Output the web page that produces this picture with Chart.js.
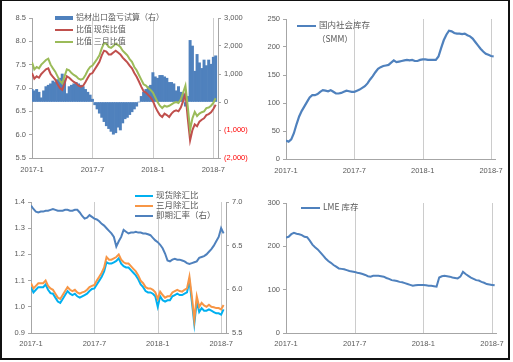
<!DOCTYPE html>
<html>
<head>
<meta charset="utf-8">
<script src="https://cdn.jsdelivr.net/npm/chart.js@4.4.0/dist/chart.umd.min.js"></script>
<style>
  body { margin: 0; background: #fff; }
  #wrap { position: relative; width: 513px; height: 362px; overflow: hidden; background: #fff; }
  #frame { position: absolute; left: 0; top: 0; width: 506px; height: 357px; border: 2px solid #111; border-top-width: 1px; pointer-events: none; }
  canvas { position: absolute; }
  .lg { position: absolute; font-family: "Noto Sans CJK SC", sans-serif; font-size: 8px; color: #595959; white-space: nowrap; height: 12px; line-height: 12px; }
  .sw { display: inline-block; width: 18px; height: 2px; vertical-align: middle; margin-right: 3px; }
</style>
</head>
<body>
<div id="wrap">
  <canvas id="c1" width="256" height="180" style="left:0;top:0"></canvas>
  <canvas id="c2" width="254" height="180" style="left:256px;top:0"></canvas>
  <canvas id="c3" width="256" height="180" style="left:0;top:180px"></canvas>
  <canvas id="c4" width="254" height="180" style="left:256px;top:180px"></canvas>

  <div class="lg" style="left:55px;top:11px"><span class="sw" style="background:#4F81BD;height:4px"></span>铝材出口盈亏试算（右）</div>
  <div class="lg" style="left:55px;top:23px"><span class="sw" style="background:#C0504D"></span>比值 现货比值</div>
  <div class="lg" style="left:55px;top:35px"><span class="sw" style="background:#9BBB59"></span>比值 三月比值</div>

  <div class="lg" style="left:297px;top:18px;font-size:8.5px"><span class="sw" style="background:#4F81BD;width:19px"></span>国内社会库存</div>
  <div class="lg" style="left:317px;top:32px;font-size:8.5px">（SMM）</div>

  <div class="lg" style="left:135px;top:188px;font-size:8.5px"><span class="sw" style="background:#00B0F0"></span>现货除汇比</div>
  <div class="lg" style="left:135px;top:198px;font-size:8.5px"><span class="sw" style="background:#F79646"></span>三月除汇比</div>
  <div class="lg" style="left:135px;top:208px;font-size:8.5px"><span class="sw" style="background:#4F81BD"></span>即期汇率（右）</div>

  <div class="lg" style="left:301px;top:200px;font-size:8.5px"><span class="sw" style="background:#4F81BD;width:19px"></span>LME 库存</div>

  <div id="frame"></div>
</div>
<script>
// weekly readings, week 0 = first week of 2017-1
const xTickPos = [0, 26, 52, 78];
const xTickLabels = ['2017-1', '2017-7', '2018-1', '2018-7'];

// panel 1
const exportPL = [450,400,450,350,150,400,550,600,650,750, 700,800,850,1000,800,300,550,600,650,700,
  650,600,550,450,350,250,100,-100,-250,-400, -550,-700,-850,-950,-1050,-1150,-1100,-900,-1000,-750,
  -600,-550,-450,-350,-250,-150,0,200,350,450, 550,600,1050,900,850,950,950,900,850,700,
  700,650,400,550,350,300,-150,200,2200,2000, 1100,1700,1400,1200,1500,1300,1500,1350,1600,1650];
const ratioSpot = [7.32,7.2,7.25,7.22,7.3,7.35,7.4,7.42,7.3,7.24, 7.18,7.08,7.0,6.96,7.1,7.25,7.22,7.17,7.13,7.1,
  7.05,7.03,7.05,7.13,7.22,7.3,7.32,7.4,7.48,7.56, 7.7,7.8,7.78,7.72,7.72,7.76,7.8,7.76,7.72,7.65,
  7.6,7.55,7.48,7.42,7.32,7.24,7.14,7.03,6.93,6.9, 6.85,6.8,6.72,6.6,6.5,6.42,6.38,6.45,6.42,6.38,
  6.45,6.5,6.52,6.5,6.58,6.72,6.88,6.35,5.88,6.1, 6.22,6.18,6.28,6.32,6.35,6.42,6.44,6.48,6.55,6.64];
const ratio3M = [7.55,7.4,7.45,7.42,7.5,7.55,7.6,7.63,7.5,7.42, 7.35,7.25,7.15,7.1,7.25,7.4,7.38,7.32,7.28,7.25,
  7.2,7.18,7.2,7.28,7.38,7.45,7.48,7.55,7.62,7.7, 7.85,7.96,7.95,7.88,7.86,7.9,7.95,7.92,7.88,7.8,
  7.75,7.7,7.62,7.56,7.45,7.38,7.28,7.18,7.08,7.05, 7.0,6.96,6.9,6.8,6.7,6.62,6.57,6.62,6.6,6.62,
  6.65,6.68,6.7,6.68,6.75,6.9,7.05,6.6,6.1,6.35, 6.49,6.4,6.45,6.48,6.5,6.57,6.58,6.62,6.68,6.78];

// panel 2
const smmStock = [33,31,35,46,62,76,86,94,102,110, 114,114,116,120,123,122,121,123,120,117,
  117,118,120,122,121,120,120,122,124,127, 130,135,142,148,155,161,164,166,167,168,
  172,176,173,174,175,176,177,176,177,175, 175,177,178,178,177,177,177,177,183,198,
  212,222,229,228,225,224,224,223,224,221, 219,215,209,203,197,192,188,186,184,183];

// panel 3
const spotFx = [1.075,1.055,1.065,1.075,1.075,1.075,1.085,1.065,1.052,1.05, 1.035,1.02,1.015,1.03,1.045,1.06,1.05,1.045,1.05,1.04,
  1.035,1.04,1.045,1.05,1.06,1.068,1.07,1.085,1.1,1.115, 1.135,1.17,1.165,1.165,1.17,1.175,1.185,1.165,1.155,1.15,
  1.15,1.14,1.13,1.12,1.105,1.085,1.075,1.06,1.055,1.055, 1.05,1.04,1.0,1.04,1.025,1.02,1.025,1.025,1.04,1.045,
  1.05,1.045,1.045,1.05,1.055,1.1,1.02,0.935,1.02,0.98, 0.995,0.985,0.985,0.99,0.985,0.98,0.975,0.975,0.97,0.99];
const threeMFx = [1.09,1.07,1.08,1.09,1.09,1.09,1.1,1.08,1.07,1.065, 1.05,1.035,1.03,1.045,1.06,1.075,1.065,1.06,1.065,1.055,
  1.05,1.055,1.058,1.065,1.075,1.08,1.083,1.1,1.115,1.13, 1.15,1.19,1.18,1.18,1.185,1.19,1.2,1.18,1.17,1.165,
  1.165,1.155,1.145,1.135,1.12,1.1,1.09,1.075,1.07,1.07, 1.065,1.055,1.03,1.058,1.045,1.035,1.04,1.04,1.055,1.06,
  1.065,1.06,1.058,1.065,1.07,1.115,1.04,0.95,1.04,1.0, 1.015,1.005,1.0,1.008,1.0,0.998,0.995,0.995,0.99,1.007];
const usdCny = [6.96,6.92,6.89,6.88,6.89,6.89,6.9,6.9,6.91,6.92, 6.91,6.9,6.9,6.9,6.91,6.91,6.9,6.9,6.91,6.91,
  6.88,6.84,6.81,6.82,6.85,6.83,6.81,6.8,6.78,6.75, 6.73,6.7,6.67,6.64,6.6,6.49,6.55,6.6,6.68,6.66,
  6.64,6.65,6.65,6.66,6.65,6.65,6.64,6.64,6.63,6.62, 6.59,6.56,6.54,6.51,6.47,6.41,6.33,6.32,6.34,6.35,
  6.34,6.34,6.33,6.32,6.3,6.29,6.3,6.31,6.32,6.36, 6.37,6.38,6.4,6.43,6.46,6.5,6.55,6.6,6.7,6.64];

// panel 4
const lmeStock = [220,222,228,231,229,228,226,222,221,213, 204,198,193,186,179,172,166,162,157,153,
  149,148,147,145,143,142,141,139,138,136, 134,131,130,132,132,132,131,130,127,125,
  122,121,120,118,117,115,113,111,109,110, 111,111,111,110,109,109,108,107,128,131,
  132,131,130,128,127,126,130,141,136,132, 128,125,122,121,118,116,113,112,111,110];

const TXT = '#595959';
const AXIS = '#a6a6a6';
const GRID = '#cccccc';
const TICK_FONT = { family: 'Liberation Sans, Arial, sans-serif', size: 7.5 };

const pts = arr => arr.map((v, i) => ({ x: i, y: v }));

// vertical gridlines at the date ticks, placed through the x scale
const vGrid = {
  id: 'vGrid',
  beforeDatasetsDraw(chart) {
    const { ctx, chartArea: a } = chart;
    const x = chart.scales.x;
    ctx.save();
    ctx.strokeStyle = GRID;
    ctx.lineWidth = 1;
    xTickPos.slice(1).forEach(v => {
      const px = Math.round(x.getPixelForValue(v)) + 0.5;
      ctx.beginPath();
      ctx.moveTo(px, a.top);
      ctx.lineTo(px, a.bottom);
      ctx.stroke();
    });
    ctx.restore();
  }
};

function xAxis(max, h, pad) {
  return {
    type: 'linear', min: 0, max: max, offset: false,
    afterBuildTicks: s => { s.ticks = xTickPos.map(v => ({ value: v })); },
    afterFit: s => { s.height = h; },
    ticks: { autoSkip: false, maxRotation: 0, padding: pad, color: TXT, font: TICK_FONT,
      callback: (v, i) => xTickLabels[i] },
    grid: { display: false, drawTicks: false },
    border: { color: AXIS }
  };
}

function yAxis(pos, min, max, step, w, fmt, color) {
  return {
    position: pos, min: min, max: max,
    afterFit: s => { s.width = w; },
    ticks: { stepSize: step, padding: 3, color: color || TXT, font: TICK_FONT, callback: fmt },
    grid: { drawOnChartArea: false, tickLength: 3, color: AXIS },
    border: { color: AXIS }
  };
}

function line(label, data, color, axis, order, width) {
  return { type: 'line', label: label, data: pts(data), borderColor: color, backgroundColor: color,
    borderWidth: width || 2, pointRadius: 0, tension: 0, yAxisID: axis, order: order };
}

const base = {
  responsive: false, animation: false, devicePixelRatio: 1,
  plugins: { legend: { display: false }, tooltip: { enabled: false } }
};

const fmt1 = v => v.toFixed(1);
const fmtInt = v => String(v);
const fmtK = v => v < 0 ? '(' + Math.abs(v).toLocaleString('en-US') + ')' : v.toLocaleString('en-US');

new Chart(document.getElementById('c1'), {
  type: 'bar',
  data: {
    datasets: [
      { type: 'bar', label: '铝材出口盈亏试算（右）', data: pts(exportPL), backgroundColor: '#4F81BD',
        barPercentage: 1, categoryPercentage: 1, yAxisID: 'y1', order: 3 },
      line('比值 现货比值', ratioSpot, '#C0504D', 'y', 2),
      line('比值 三月比值', ratio3M, '#9BBB59', 'y', 1)
    ]
  },
  options: Object.assign({}, base, {
    layout: { padding: { top: 18, left: 0, right: 0, bottom: 0 } },
    scales: {
      x: xAxis(80, 22, 7),
      y: yAxis('left', 5.5, 8.5, 0.5, 32, fmt1),
      y1: yAxis('right', -2000, 3000, 1000, 38, fmtK, c => (c.tick && c.tick.value < 0) ? '#ff0000' : TXT)
    }
  }),
  plugins: [vGrid]
});

new Chart(document.getElementById('c2'), {
  type: 'line',
  data: { datasets: [ line('国内社会库存（SMM）', smmStock, '#4F81BD', 'y', 1, 2.2) ] },
  options: Object.assign({}, base, {
    layout: { padding: { top: 19, left: 0, right: 14, bottom: 0 } },
    scales: {
      x: xAxis(79.5, 21, 7),
      y: yAxis('left', 0, 250, 50, 30, fmtInt)
    }
  }),
  plugins: [vGrid]
});

new Chart(document.getElementById('c3'), {
  type: 'line',
  data: {
    datasets: [
      line('现货除汇比', spotFx, '#00B0F0', 'y', 2),
      line('三月除汇比', threeMFx, '#F79646', 'y', 1),
      line('即期汇率（右）', usdCny, '#4F81BD', 'y1', 3)
    ]
  },
  options: Object.assign({}, base, {
    layout: { padding: { top: 22, left: 0, right: 0, bottom: 0 } },
    scales: {
      x: xAxis(80, 27, 6),
      y: yAxis('left', 0.9, 1.4, 0.1, 31, fmt1),
      y1: yAxis('right', 5.5, 7.0, 0.5, 30, fmt1)
    }
  }),
  plugins: [vGrid]
});

new Chart(document.getElementById('c4'), {
  type: 'line',
  data: { datasets: [ line('LME 库存', lmeStock, '#4F81BD', 'y', 1) ] },
  options: Object.assign({}, base, {
    layout: { padding: { top: 23, left: 0, right: 14, bottom: 0 } },
    scales: {
      x: xAxis(79.5, 27, 6),
      y: yAxis('left', 0, 300, 100, 30, fmtInt)
    }
  }),
  plugins: [vGrid]
});
</script>
</body>
</html>
